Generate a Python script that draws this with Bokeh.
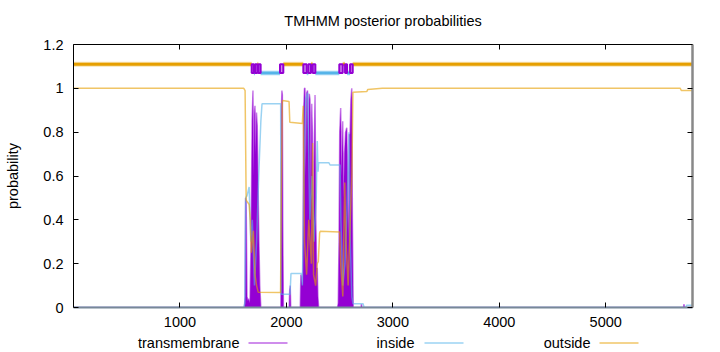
from bokeh.plotting import figure
from bokeh.layouts import column
from bokeh.models import (LinearAxis, FixedTicker, CustomJSTickFormatter, Range1d)
from bokeh.core.properties import value
from bokeh.embed import file_html
from bokeh.resources import INLINE

# ---------------- data ----------------
title_text = "TMHMM posterior probabilities"
ylabel_text = "probability"
legend_labels = ["transmembrane", "inside", "outside"]
x_ticks = [1000, 2000, 3000, 4000, 5000]
y_ticks = [0, 0.2, 0.4, 0.6, 0.8, 1.0, 1.2]
seq_start = 0
seq_end = 5815

# posterior probability of "outside"
out_x = [0, 1600, 1612, 1622, 1650, 1660, 1670, 1690, 1705, 1720, 1735, 1945, 1952, 1962,
         2025, 2032, 2150, 2158, 2170, 2190, 2210, 2235, 2247, 2255, 2275, 2290, 2300, 2312,
         2318, 2500, 2510, 2530, 2548, 2560, 2580, 2600, 2615, 2625, 2755, 2765, 2900, 5700,
         5710, 5815]
out_y = [1.0, 1.0, 0.99, 0.49, 0.47, 0.40, 0.25, 0.35, 0.15, 0.10, 0.07, 0.068, 0.5, 0.944,
         0.94, 0.845, 0.84, 0.92, 0.30, 0.15, 0.40, 0.20, 0.75, 0.15, 0.10, 0.20, 0.21, 0.34,
         0.348, 0.345, 0.20, 0.05, 0.57, 0.30, 0.10, 0.40, 0.60, 0.982, 0.985, 0.995, 1.0, 1.0,
         0.99, 0.99]

# posterior probability of "inside"
in_x = [0, 1600, 1610, 1617, 1630, 1640, 1650, 1665, 1680, 1700, 1720, 1740, 1760, 1771,
        1946, 1950, 2034, 2043, 2144, 2150, 2165, 2180, 2200, 2220, 2240, 2260, 2280, 2290,
        2297, 2303, 2400, 2410, 2504, 2512, 2530, 2550, 2570, 2588, 2600, 2615, 2626, 2720,
        2730, 5750, 5760, 5815]
in_y = [0, 0, 0.02, 0.50, 0.51, 0.53, 0.55, 0.30, 0.40, 0.10, 0.30, 0.60, 0.85, 0.93,
        0.93, 0.06, 0.06, 0.155, 0.155, 0.10, 0.60, 0.95, 0.98, 0.40, 0.60, 0.30, 0.50, 0.76,
        0.62, 0.66, 0.66, 0.65, 0.65, 0.40, 0.10, 0.20, 0.45, 0.80, 0.30, 0.05, 0.017, 0.017,
        0.0, 0.0, 0.01, 0.01]

# posterior probability of "transmembrane"
tm_x = [0, 1605, 1612, 1617, 1622, 1630, 1639, 1648, 1658, 1668, 1678, 1686, 1693, 1699,
        1705, 1712, 1719, 1726, 1734, 1742, 1750, 1760, 1948, 1953, 1958, 1962, 1966, 1972,
        2026, 2031, 2036, 2041, 2130, 2136, 2142, 2148, 2154, 2162, 2170, 2175, 2182, 2191,
        2198, 2206, 2215, 2222, 2230, 2238, 2244, 2252, 2260, 2269, 2277, 2284, 2290, 2296,
        2303, 2480, 2487, 2494, 2501, 2510, 2518, 2529, 2537, 2546, 2556, 2567, 2575, 2584,
        2591, 2598, 2606, 2614, 2620, 2628, 2700, 2705, 2710, 5730, 5735, 5740, 5815]
tm_y = [0, 0, 0.05, 0.50, 0.48, 0.05, 0.03, 0.04, 0.02, 0.30, 0.85, 0.99, 0.60, 0.88,
        0.92, 0.70, 0.89, 0.83, 0.55, 0.30, 0.10, 0.0, 0, 0.90, 0.99, 0.97, 0.40, 0.0,
        0, 0.08, 0.10, 0, 0, 0.15, 0.14, 0.10, 0.12, 0.90, 1.0, 1.0, 0.60, 0.98,
        0.99, 0.70, 0.975, 0.95, 0.50, 0.93, 0.80, 0.30, 0.65, 0.97, 0.40, 0.18, 0.18, 0.05,
        0, 0, 0.02, 0.30, 0.80, 0.91, 0.60, 0.85, 0.50, 0.70, 0.80, 0.82, 0.60, 0.30,
        0.79, 0.79, 0.95, 1.0, 0.40, 0, 0, 0.015, 0, 0, 0.015, 0, 0]

# predicted topology (start, end residues)
topo_outside = [(0, 1674), (1727, 1736), (1971, 2159), (2231, 2247), (2529, 2551), (2623, 5815)]
topo_inside = [(1695, 1705), (1758, 1940), (2191, 2206), (2272, 2497), (2570, 2598)]
topo_tm = [(1674, 1695), (1705, 1727), (1736, 1758), (1940, 1971), (2159, 2191),
           (2206, 2231), (2247, 2272), (2497, 2529), (2551, 2570), (2598, 2623)]

# ---------------- style ----------------
C_TM = "#9400D3"
C_IN = "#56B4E9"
C_OUT = "#E69F00"
FONT = "Liberation Sans"
FS = "14.5px"
OUT_LEVEL = 1.11
IN_LEVEL = 1.07
W = 720
FRAME_L = 73
FRAME_R = 692
TITLE_H = 30
LEG_H = 18
MAIN_H = 352 - TITLE_H - LEG_H


def blank_fig(h):
    # frames get aligned with the main plot's frame in a column: use canvas px as data
    f = figure(width=W, height=h, x_range=Range1d(FRAME_L, FRAME_R), y_range=Range1d(0, h),
               output_backend="svg", toolbar_location=None, min_border=0,
               x_axis_type=None, y_axis_type=None)
    f.grid.visible = False
    f.outline_line_color = None
    return f


# ---- title strip ----
tf = blank_fig(TITLE_H)
tf.text(x=[(FRAME_L + FRAME_R) / 2], y=[TITLE_H - 20], text=[title_text], text_align="center",
        text_baseline="middle", text_font=value(FONT), text_font_size=FS,
        text_color="black")

# ---- main plot ----
p = figure(width=W, height=MAIN_H, x_range=Range1d(seq_start, seq_end),
           y_range=Range1d(0, 1.2), output_backend="svg", toolbar_location=None,
           min_border_left=FRAME_L, min_border_right=W - FRAME_R, min_border_top=44 - TITLE_H,
           min_border_bottom=MAIN_H + TITLE_H - 307)
p.grid.visible = False
p.outline_line_color = None

p.varea(x=tm_x, y1=[0] * len(tm_x), y2=tm_y, fill_color=C_TM, fill_alpha=1.0)
p.line(tm_x, tm_y, line_color=C_TM, line_alpha=0.5, line_width=1.5)
p.line(in_x, in_y, line_color=C_IN, line_alpha=0.6, line_width=1.5)
p.line(out_x, out_y, line_color=C_OUT, line_alpha=0.6, line_width=1.5)

p.segment(x0=[a for a, b in topo_outside], x1=[b for a, b in topo_outside],
          y0=OUT_LEVEL, y1=OUT_LEVEL, line_color=C_OUT, line_alpha=0.3, line_width=5)
p.segment(x0=[a for a, b in topo_outside], x1=[b for a, b in topo_outside],
          y0=OUT_LEVEL, y1=OUT_LEVEL, line_color=C_OUT, line_width=3)
p.segment(x0=[a for a, b in topo_inside], x1=[b for a, b in topo_inside],
          y0=IN_LEVEL, y1=IN_LEVEL, line_color=C_IN, line_alpha=0.3, line_width=5)
p.segment(x0=[a for a, b in topo_inside], x1=[b for a, b in topo_inside],
          y0=IN_LEVEL, y1=IN_LEVEL, line_color=C_IN, line_width=3)
p.quad(left=[a for a, b in topo_tm], right=[b for a, b in topo_tm],
       bottom=IN_LEVEL, top=OUT_LEVEL, fill_color=C_TM, fill_alpha=0.45,
       line_color=C_TM, line_width=2)


def style_axis(ax, ticks, labels=True):
    ax.ticker = FixedTicker(ticks=ticks)
    ax.major_tick_in = 5
    ax.major_tick_out = 0
    ax.minor_tick_in = 0
    ax.minor_tick_out = 0
    ax.major_tick_line_color = "black"
    ax.axis_line_color = "black"
    ax.major_label_text_font = FONT
    ax.major_label_text_font_size = FS
    ax.major_label_text_color = "black"
    if not labels:
        ax.formatter = CustomJSTickFormatter(code="return '';")
        ax.major_label_text_font_size = "0px"
        ax.major_label_standoff = 0


xa = p.xaxis[0]
style_axis(xa, x_ticks)
xa.major_label_standoff = 9
xa.axis_line_color = "#778899"
xa.axis_line_width = 2
ya = p.yaxis[0]
style_axis(ya, y_ticks)
ya.formatter = CustomJSTickFormatter(code="return Number(tick.toFixed(1)).toString();")
ya.major_label_standoff = 10
ya.axis_label = ylabel_text
ya.axis_label_text_font = FONT
ya.axis_label_text_font_size = FS
ya.axis_label_text_font_style = "normal"
ya.axis_label_text_color = "black"
ya.axis_label_standoff = 19

top_ax = LinearAxis()
style_axis(top_ax, x_ticks, labels=False)
p.add_layout(top_ax, "above")
right_ax = LinearAxis()
style_axis(right_ax, y_ticks, labels=False)
right_ax.axis_line_color = "#888888"
right_ax.axis_line_width = 2.5
p.add_layout(right_ax, "right")

# ---- legend strip (gnuplot style: text, then sample line) ----
lf = blank_fig(LEG_H)
leg_text_right = [239, 414, 590]
leg_line_start = [248, 424, 599]
leg_colors = [C_TM, C_IN, C_OUT]
leg_y = LEG_H - (342 - (352 - LEG_H))
lf.text(x=leg_text_right, y=[leg_y] * 3, text=legend_labels, text_align="right",
        text_baseline="middle", text_font=value(FONT), text_font_size=FS,
        text_color="black")
lf.segment(x0=leg_line_start, x1=[s + 39 for s in leg_line_start], y0=leg_y - 0.5,
           y1=leg_y - 0.5, line_color=leg_colors, line_alpha=0.6, line_width=1.5)

layout = column(tf, p, lf, spacing=0)
open("out.html", "w").write(file_html(layout, INLINE))
